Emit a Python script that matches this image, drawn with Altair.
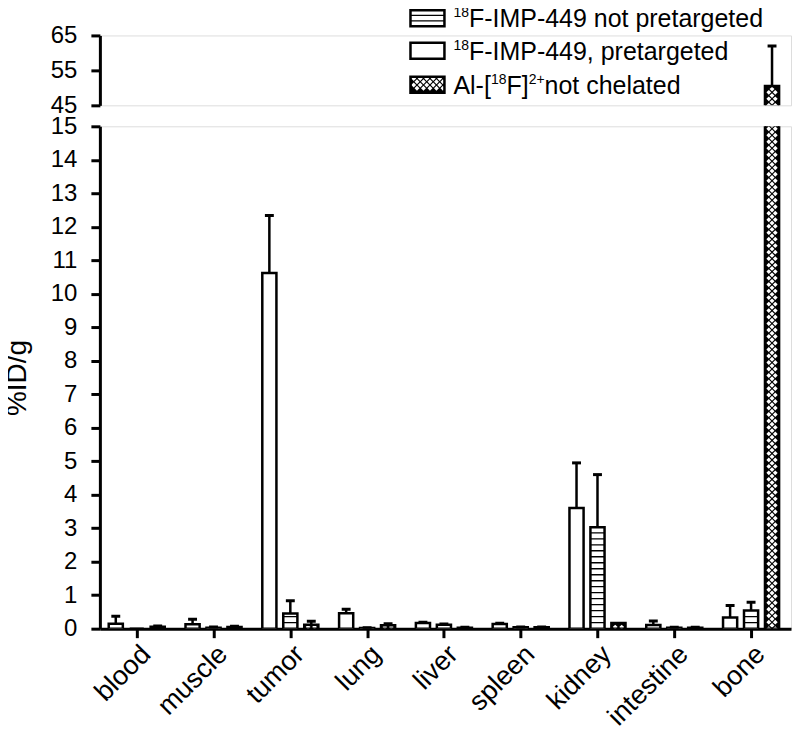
import json
import altair as alt
import pandas as pd

# ---------------- data ----------------
categories = ["blood", "muscle", "tumor", "lung", "liver", "spleen", "kidney", "intestine", "bone"]
series_names = ["18F-IMP-449, pretargeted", "18F-IMP-449 not pretargeted", "Al-[18F]2+ not chelated"]

pretargeted = [0.15, 0.13, 10.62, 0.46, 0.17, 0.14, 3.60, 0.11, 0.33]
pretargeted_err = [0.22, 0.15, 1.72, 0.12, 0.02, 0.02, 1.35, 0.12, 0.36]
not_pretargeted = [0.00, 0.03, 0.45, 0.02, 0.12, 0.04, 3.03, 0.03, 0.54]
not_pretargeted_err = [0.00, 0.02, 0.38, 0.01, 0.02, 0.01, 1.57, 0.01, 0.25]
al_free = [0.06, 0.05, 0.12, 0.10, 0.03, 0.04, 0.17, 0.03, 50.5]
al_free_err = [0.02, 0.02, 0.10, 0.05, 0.01, 0.01, 0.00, 0.01, 11.5]

y_ticks_low = list(range(0, 16))
y_ticks_high = [45, 55, 65]

# ---------------- layout parameters ----------------
FONT = "Liberation Sans"
W = 692
H_LOW, H_HIGH = 503, 70
LOW, HIGH = (0, 15), (45, 65)
X_DOMAIN = [-0.48, 8.52]
OFFSETS = [-0.273, 0.0, 0.273]
HALF = 0.092
CAP = 0.058
PX_X = W / (X_DOMAIN[1] - X_DOMAIN[0])
FILLS = ["white", "white", "black"]

values = [pretargeted, not_pretargeted, al_free]
errors = [pretargeted_err, not_pretargeted_err, al_free_err]

rows = []
for i, cat in enumerate(categories):
    for j in range(3):
        v, e = values[j][i], errors[j][i]
        xc = i + OFFSETS[j]
        rows.append(dict(category=cat, series=series_names[j], s=j, xc=xc,
                         x0=xc - HALF, x1=xc + HALF, cap0=xc - CAP, cap1=xc + CAP,
                         value=v, err=e, top=v + e, fill=FILLS[j]))
bars = pd.DataFrame(rows)


def stripes_for(lo, hi, height):
    step = 6.0 / (height / (hi - lo))
    out = []
    for r in bars[bars.s == 1].itertuples():
        k = 1
        while lo + k * step < min(r.value, hi) - 0.5 * step:
            out.append(dict(x0=r.x0, x1=r.x1, ys=lo + k * step))
            k += 1
    return pd.DataFrame(out, columns=["x0", "x1", "ys"])


def diamonds_for(lo, hi, height):
    s = height / (hi - lo)
    p = 6.5
    out = []
    for r in bars[bars.s == 2].itertuples():
        top_px = (min(r.value, hi + 1) - lo) * s
        start = 1.6 if r.value < hi and lo <= 0 else -p
        end = min(top_px - 1.6, height + p)
        y = start
        k = 0
        while y <= end:
            offs = [-p / 2, p / 2] if k % 2 == 0 else [0.0]
            for o in offs:
                out.append(dict(dx=r.xc + o / PX_X, dy=lo + y / s))
            y += p / 2
            k += 1
    return pd.DataFrame(out, columns=["dx", "dy"])


def panel(lo, hi, height, bottom_axis, yvals, title):
    xs = alt.Scale(domain=X_DOMAIN, nice=False, zero=False)
    ys = alt.Scale(domain=[lo, hi], nice=False, zero=False)
    yaxis = alt.Axis(values=yvals, tickSize=9, tickWidth=3, domainWidth=3,
                     tickColor="black", domainColor="black", labelColor="black",
                     labelFont=FONT, labelFontSize=24, labelPadding=14, grid=False,
                     labelOverlap=False, labelBound=False,
                     titleFont=FONT, titleFontSize=28, titleFontWeight="normal",
                     titleColor="black", titlePadding=19)
    if bottom_axis:
        expr = json.dumps(categories) + "[datum.value]"
        xaxis = alt.Axis(values=list(range(len(categories))), labelExpr=expr, tickSize=9,
                         tickWidth=3, domainWidth=3, tickColor="black", domainColor="black",
                         labelColor="black", labelFont=FONT, labelFontSize=27, labelAngle=-45,
                         labelAlign="right", labelBaseline="top", labelPadding=3,
                         labelOverlap=False, labelBound=False, grid=False, title=None)
    else:
        xaxis = None

    def X(f):
        return alt.X(f, scale=xs, axis=xaxis)

    def Y(f):
        return alt.Y(f, scale=ys, axis=yaxis, title=title)

    d = bars if lo <= 0 else bars[bars.value > lo]
    base = alt.Chart(d)
    fill = base.mark_rect(clip=True, strokeWidth=0).encode(
        x=X("x0:Q"), x2="x1:Q", y=Y("value:Q"), y2=alt.datum(0),
        fill=alt.Fill("fill:N", scale=None))
    layers = [fill]
    st = stripes_for(lo, hi, height)
    if len(st):
        layers.append(alt.Chart(st).mark_rule(clip=True, color="black", strokeWidth=1.3).encode(
            x=X("x0:Q"), x2="x1:Q", y=Y("ys:Q")))
    dm = diamonds_for(lo, hi, height)
    if len(dm):
        layers.append(alt.Chart(dm).mark_point(clip=True, shape="diamond", filled=True, color="white",
                                               size=24, opacity=1, strokeWidth=0).encode(
            x=X("dx:Q"), y=Y("dy:Q")))
    outline = base.mark_rect(clip=True, fillOpacity=0, stroke="black", strokeWidth=2.5).encode(
        x=X("x0:Q"), x2="x1:Q", y=Y("value:Q"), y2=alt.datum(0))
    eb = alt.Chart(d[d.err > 0])
    err = eb.mark_rule(clip=True, color="black", strokeWidth=2.5).encode(
        x=X("xc:Q"), y=Y("value:Q"), y2="top:Q")
    cap = eb.mark_rule(clip=True, color="black", strokeWidth=3).encode(
        x=X("cap0:Q"), x2="cap1:Q", y=Y("top:Q"))
    layers += [outline, err, cap]
    return layers


# ---------------- legend (pixel layout, upper panel) ----------------
AW = {'A': .667, 'l': .222, '-': .333, '[': .278, ']': .278, '1': .556, '8': .556, '2': .556,
      '+': .584, 'F': .611, 'n': .556, 'o': .556, 't': .278, ' ': .278, 'c': .5, 'h': .556,
      'e': .556, 'a': .556, 'd': .556}


def tw(s, size):
    return sum(AW.get(c, .556) for c in s) * size


MAIN, SUP = 25, 14
LX = 354
baselines = [-8.3, 24.3, 58.3]
legend_rows = [
    [("18", SUP), ("F-IMP-449 not pretargeted", MAIN)],
    [("18", SUP), ("F-IMP-449, pretargeted", MAIN)],
    [("Al-[", MAIN), ("18", SUP), ("F]", MAIN), ("2+", SUP), ("not chelated", MAIN)],
]
texts = []
for r, parts in enumerate(legend_rows):
    x = LX
    for t, sz in parts:
        yb = baselines[r] if sz == MAIN else baselines[r] - 10
        texts.append(dict(px=x, py=yb, text=t, size=sz))
        x += tw(t, sz)
tdf = pd.DataFrame(texts)

sw = pd.DataFrame([dict(x0=311, x1=345, y0=b - 17, y1=b - 1, fill=f)
                   for b, f in zip(baselines, ["white", "white", "black"])])
sw_lines = pd.DataFrame([dict(x0=311, x1=345, y=baselines[0] - 9 + o) for o in (-2.7, 2.7)])
dpts = []
p = 6.5
yy, k = baselines[2] - 17 + 1.8, 0
while yy <= baselines[2] - 1 - 1.5:
    cx = 311 + (p / 2 if k % 2 == 0 else p)
    while cx <= 345 - 1.5:
        dpts.append(dict(px=cx, py=yy))
        cx += p
    yy += p / 2
    k += 1
ddf = pd.DataFrame(dpts)

nx = alt.X("x0:Q", scale=None, axis=None)
legend_layers = [
    alt.Chart(sw).mark_rect(strokeWidth=0).encode(
        x=nx, x2="x1:Q", y=alt.Y("y0:Q", scale=None, axis=None), y2="y1:Q",
        fill=alt.Fill("fill:N", scale=None)),
    alt.Chart(sw_lines).mark_rule(color="black", strokeWidth=1.3).encode(
        x=nx, x2="x1:Q", y=alt.Y("y:Q", scale=None, axis=None)),
    alt.Chart(ddf).mark_point(shape="diamond", filled=True, color="white", size=24, opacity=1,
                              strokeWidth=0).encode(
        x=alt.X("px:Q", scale=None, axis=None), y=alt.Y("py:Q", scale=None, axis=None)),
    alt.Chart(sw).mark_rect(fillOpacity=0, stroke="black", strokeWidth=2.5).encode(
        x=nx, x2="x1:Q", y=alt.Y("y0:Q", scale=None, axis=None), y2="y1:Q"),
    alt.Chart(tdf).mark_text(align="left", baseline="alphabetic", font=FONT, color="black").encode(
        x=alt.X("px:Q", scale=None, axis=None), y=alt.Y("py:Q", scale=None, axis=None),
        text="text:N", size=alt.Size("size:Q", scale=None, legend=None)),
]

upper_data = alt.layer(*panel(HIGH[0], HIGH[1], H_HIGH, False, y_ticks_high, None))
upper = alt.layer(upper_data, *legend_layers).resolve_scale(x="independent", y="independent") \
    .properties(width=W, height=H_HIGH)
lower = alt.layer(*panel(LOW[0], LOW[1], H_LOW, True, y_ticks_low, "%ID/g")) \
    .properties(width=W, height=H_LOW)

chart = alt.vconcat(upper, lower, spacing=21, bounds="flush").properties(
    padding={"left": -6, "top": -3, "right": 0, "bottom": 0}
).configure_view(stroke=None).configure(background="white")

chart.save("out.html", embed_options={"renderer": "svg", "actions": False})
